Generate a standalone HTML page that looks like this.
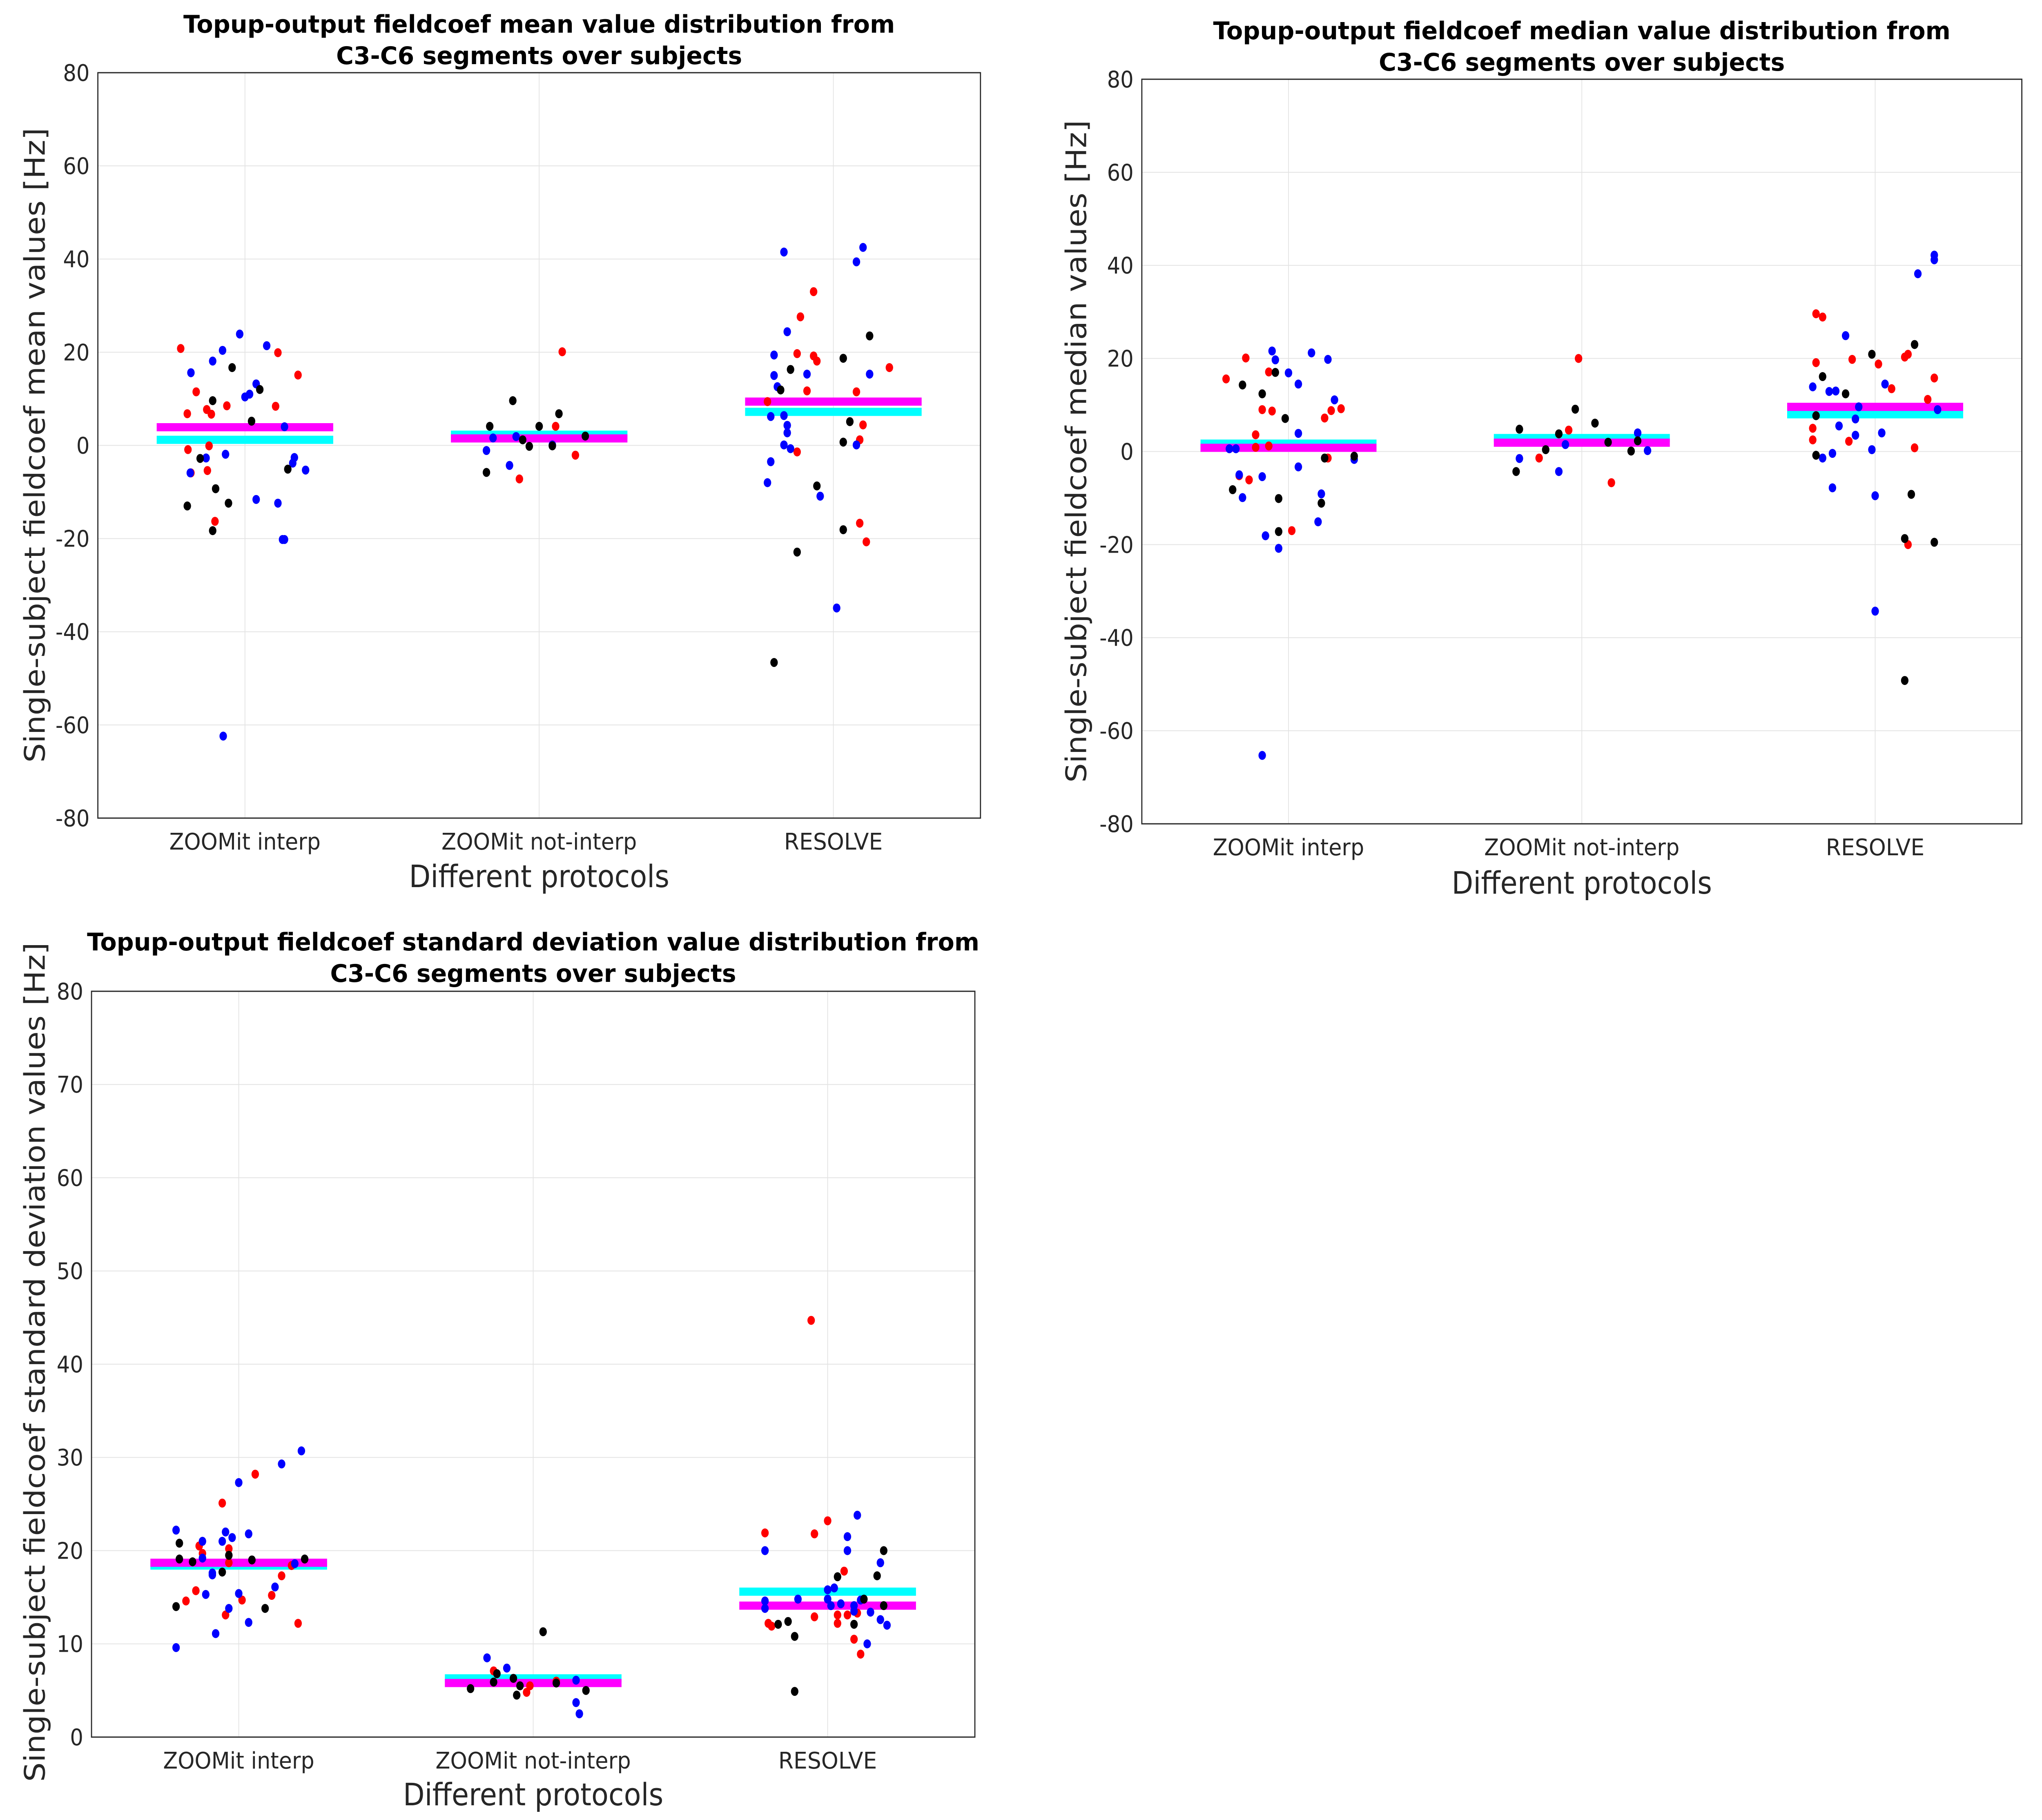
<!DOCTYPE html>
<html><head><meta charset="utf-8">
<style>
html,body{margin:0;padding:0;background:#fff;overflow:hidden;width:100%;height:100%;}
svg{display:block;width:100vw;height:100vh;font-family:"DejaVu Sans","Liberation Sans",sans-serif;}
</style></head>
<body>
<svg id="fig" xmlns="http://www.w3.org/2000/svg" viewBox="0 0 5467 4456" preserveAspectRatio="none">
<rect x="0" y="0" width="5467" height="4456" fill="#ffffff"/>
</svg>
<script>
// ---------- shared ----------
const categories = ["ZOOMit interp", "ZOOMit not-interp", "RESOLVE"];

// ---------- plot 1 : mean ----------
const p1Ticks = [-80, -60, -40, -20, 0, 20, 40, 60, 80];
const p1Mean = [3.9, 1.5, 9.4];
const p1Median = [1.2, 2.3, 7.2];
const p1RedVal = [20.8,11.5,6.8,7.7,6.7,8.5,8.4,19.9,15.1,-0.9,-5.9,-0.1,-5.4,-16.3, 20.1,4.1,-2.1,-7.2, 33.0,27.6,19.7,19.2,18.1,11.7,11.5,16.7,9.4,4.4,1.2,-1.4,-16.7,-20.7];
const p1RedCat = [0,0,0,0,0,0,0,0,0,0,0,0,0,0, 1,1,1,1, 2,2,2,2,2,2,2,2,2,2,2,2,2,2];
const p1RedJit = [-.195,-.148,-.175,-.116,-.102,-.055,.093,.1,.161,-.173,-.164,-.109,-.114,-.091, .07,.05,.11,-.06, -.06,-.1,-.11,-.06,-.05,-.08,.07,.17,-.2,.09,.08,-.11,.08,.1];
const p1BlueVal = [15.6,18.1,20.4,23.9,21.4,10.4,11.0,13.2,4.0,-2.7,-1.9,-2.6,-3.8,-5.3,-11.6,-12.4,-20.2,-20.2,-62.4,-5.9, 1.6,1.9,-1.1,-4.3,0.1, 41.5,42.5,39.4,24.4,19.4,15.0,15.3,15.3,12.6,6.2,6.4,4.3,2.7,0.1,-0.7,0.1,-3.5,-8.0,-10.9,-34.9];
const p1BlueCat = [0,0,0,0,0,0,0,0,0,0,0,0,0,0,0,0,0,0,0,0, 1,1,1,1,1, 2,2,2,2,2,2,2,2,2,2,2,2,2,2,2,2,2,2,2,2];
const p1BlueJit = [-.164,-.098,-.068,-.016,.066,0,.014,.034,.12,-.118,-.059,.15,.145,.184,.034,.1,.114,.12,-.066,-.166, -.14,-.07,-.16,-.09,.04, -.15,.09,.07,-.14,-.18,-.18,-.08,.11,-.17,-.19,-.15,-.14,-.14,-.15,-.13,.07,-.19,-.2,-.04,.01];
const p1BlackVal = [9.6,16.7,12.0,5.2,-2.8,-5.1,-13.0,-9.3,-12.4,-18.3, 4.1,9.6,4.1,6.8,2.0,1.2,-0.2,-5.8,-0.1, 23.5,18.7,16.3,11.9,5.1,0.7,-8.7,-18.1,-22.9,-46.6];
const p1BlackCat = [0,0,0,0,0,0,0,0,0,0, 1,1,1,1,1,1,1,1,1, 2,2,2,2,2,2,2,2,2,2];
const p1BlackJit = [-.098,-.039,.045,.02,-.136,.13,-.175,-.089,-.05,-.098, -.15,-.08,0,.06,.14,-.05,-.03,-.16,.04, .11,.03,-.13,-.16,.05,.03,-.05,.03,-.11,-.18];

// ---------- plot 2 : median ----------
const p2Ticks = [-80, -60, -40, -20, 0, 20, 40, 60, 80];
const p2Mean = [0.8, 1.9, 9.6];
const p2Median = [1.7, 2.9, 8.0];
const p2RedVal = [15.6,20.1,17.1,9.0,8.7,3.6,0.9,1.2,-5.2,-6.1,-17.0,7.2,8.8,9.2,-1.4, 20.0,4.6,-1.4,-6.7, 29.6,28.9,19.1,19.8,18.8,20.3,20.9,13.5,15.8,11.2,5.0,2.5,2.2,0.8,-20.0];
const p2RedCat = [0,0,0,0,0,0,0,0,0,0,0,0,0,0,0, 1,1,1,1, 2,2,2,2,2,2,2,2,2,2,2,2,2,2,2];
const p2RedJit = [-.19,-.13,-.06,-.08,-.05,-.1,-.1,-.06,-.15,-.12,.01,.11,.13,.16,.12, -.01,-.04,-.13,.09, -.18,-.16,-.18,-.07,.01,.09,.1,.05,.18,.16,-.19,-.19,-.08,.12,.1];
const p2BlueVal = [21.6,19.7,16.9,14.5,21.2,19.8,11.1,3.9,0.6,0.6,-5.0,-5.4,-9.9,-3.3,-9.1,-15.1,-1.7,-18.1,-20.8,-65.3, -1.5,1.5,4.0,0.2,-4.3, 42.2,41.2,38.2,24.9,13.9,12.9,13.0,14.5,9.6,9.0,7.0,5.5,3.5,4.0,0.4,-0.4,-1.4,-7.8,-9.5,-34.3];
const p2BlueCat = [0,0,0,0,0,0,0,0,0,0,0,0,0,0,0,0,0,0,0,0, 1,1,1,1,1, 2,2,2,2,2,2,2,2,2,2,2,2,2,2,2,2,2,2,2,2];
const p2BlueJit = [-.05,-.04,0,.03,.07,.12,.14,.03,-.18,-.16,-.15,-.08,-.14,.03,.1,.09,.2,-.07,-.03,-.08, -.19,-.05,.17,.2,-.07, .18,.18,.13,-.09,-.19,-.14,-.12,.03,-.05,.19,-.06,-.11,-.06,.02,-.01,-.13,-.16,-.13,0,0];
const p2BlackVal = [14.3,12.4,17.0,7.1,-1.4,-1.0,-8.2,-10.1,-11.1,-17.2, 4.8,9.1,6.1,3.8,0.4,2.0,2.3,0.1,-4.3, 20.9,23.0,16.1,12.4,7.7,-0.8,-9.2,-18.7,-19.5,-49.2];
const p2BlackCat = [0,0,0,0,0,0,0,0,0,0, 1,1,1,1,1,1,1,1,1, 2,2,2,2,2,2,2,2,2,2];
const p2BlackJit = [-.14,-.08,-.04,-.01,.11,.2,-.17,-.03,.1,-.03, -.19,-.02,.04,-.07,-.11,.08,.17,.15,-.2, -.01,.12,-.16,-.09,-.18,-.18,.11,.09,.18,.09];

// ---------- plot 3 : standard deviation ----------
const p3Ticks = [0, 10, 20, 30, 40, 50, 60, 70, 80];
const p3Mean = [18.7, 5.8, 14.1];
const p3Median = [18.4, 6.3, 15.6];
const p3RedVal = [25.1,28.2,20.5,19.7,20.2,18.7,17.3,18.4,15.7,14.6,14.7,15.2,13.1,12.2, 7.1,4.8,5.5,6.0, 44.7,21.9,23.2,21.8,17.8,12.9,13.1,12.2,13.1,13.3,12.2,11.9,10.5,8.9];
const p3RedCat = [0,0,0,0,0,0,0,0,0,0,0,0,0,0, 1,1,1,1, 2,2,2,2,2,2,2,2,2,2,2,2,2,2];
const p3RedJit = [-.05,.05,-.12,-.11,-.03,-.03,.13,.16,-.13,-.16,.01,.1,-.04,.18, -.12,-.02,-.01,.07, -.05,-.19,0,-.04,.05,-.04,.03,.03,.06,.09,-.18,-.17,.08,.1];
const p3BlueVal = [22.2,21.0,21.0,22.0,21.4,21.8,27.3,29.3,30.7,19.2,17.6,17.4,15.3,15.4,13.8,16.1,18.6,12.3,11.1,9.6, 8.5,7.4,6.1,3.7,2.5, 23.8,21.5,20.0,20.0,18.7,15.8,16.0,14.8,14.1,14.3,14.6,13.8,14.8,14.1,14.7,13.5,13.4,12.6,12.0,10.0];
const p3BlueCat = [0,0,0,0,0,0,0,0,0,0,0,0,0,0,0,0,0,0,0,0, 1,1,1,1,1, 2,2,2,2,2,2,2,2,2,2,2,2,2,2,2,2,2,2,2,2];
const p3BlueJit = [-.19,-.11,-.05,-.04,-.02,.03,0,.13,.19,-.11,-.08,-.08,-.1,0,-.03,.11,.17,.03,-.07,-.19, -.14,-.08,.13,.13,.14, .09,.06,-.19,.06,.16,0,.02,0,.01,.04,-.19,-.19,-.09,.08,.1,.08,.13,.16,.18,.12];
const p3BlackVal = [20.8,19.1,18.8,17.7,19.5,19.0,19.1,14.0,13.8, 11.3,6.8,6.3,5.9,5.5,5.8,5.2,4.5,5.0, 20.0,17.2,17.3,14.8,14.1,12.4,12.1,12.1,10.8,4.9];
const p3BlackCat = [0,0,0,0,0,0,0,0,0, 1,1,1,1,1,1,1,1,1, 2,2,2,2,2,2,2,2,2,2];
const p3BlackJit = [-.18,-.18,-.14,-.05,-.03,.04,.2,-.19,.08, .03,-.11,-.06,-.12,-.04,.07,-.19,-.05,.16, .17,.03,.15,.11,.17,-.12,-.15,.08,-.1,-.1];

const NS = "http://www.w3.org/2000/svg";
const svg = document.getElementById("fig");
function mk(tag, attrs, parent) {
  const e = document.createElementNS(NS, tag);
  for (const k in attrs) e.setAttribute(k, attrs[k]);
  (parent || svg).appendChild(e);
  return e;
}

function drawPlot(cfg) {
  const g = mk("g", {});
  
  
  const L = cfg.left, R = cfg.right, T = cfg.top, B = cfg.bottom;
  const ymin = cfg.ticks[0], ymax = cfg.ticks[cfg.ticks.length - 1];
  const yScale = v => B - (v - ymin) / (ymax - ymin) * (B - T);
  const catW = (R - L) / categories.length;
  const xScale = (c, j) => L + catW * (c + 0.5) + j * catW * 1.12;

  cfg.ticks.forEach(t => {
    const ln = mk("line", {x1: L, x2: R, y1: yScale(t), y2: yScale(t), stroke: "#e3e3e3", "stroke-width": 2}, g);
    
    
  });
  categories.forEach((c, i) => {
    const ln = mk("line", {x1: xScale(i, 0), x2: xScale(i, 0), y1: T, y2: B, stroke: "#e3e3e3", "stroke-width": 2}, g);
    
    
  });

  const halfW = 0.3 * catW;
  cfg.median.forEach((v, i) => {
    const r = mk("rect", {x: xScale(i, 0) - halfW, y: yScale(v) - 10, width: 2 * halfW, height: 20, fill: "#00ffff"}, g);
    
    
  });
  cfg.mean.forEach((v, i) => {
    const r = mk("rect", {x: xScale(i, 0) - halfW, y: yScale(v) - 10, width: 2 * halfW, height: 20, fill: "#ff00ff"}, g);
    
    
  });

  cfg.series.forEach(s => {
    s.vals.forEach((v, k) => {
      const c = mk("ellipse", {cx: xScale(s.cats[k], s.jits[k]), cy: yScale(v), rx: 10, ry: 11, fill: s.color}, g);
      
      
    });
  });

  const fr = mk("rect", {x: L, y: T, width: R - L, height: B - T, fill: "none", stroke: "#262626", "stroke-width": 3}, g);
  
  

  cfg.ticks.forEach(t => {
    const tx = mk("text", {x: L - 22, y: yScale(t) + 20, "text-anchor": "end", "font-size": 56, fill: "#262626"}, g);
    tx.textContent = String(t);
    
    
  });
  const xtl = [405, 523, 264];
  categories.forEach((c, i) => {
    const tx = mk("text", {x: xScale(i, 0), y: cfg.xtickY, "text-anchor": "middle", "font-size": 56, fill: "#262626", textLength: xtl[i], lengthAdjust: "spacingAndGlyphs"}, g);
    tx.textContent = c;
    
    
  });
  const xt = mk("text", {x: (L + R) / 2, y: cfg.xtitleY, "text-anchor": "middle", "font-size": 76, fill: "#262626", textLength: 697, lengthAdjust: "spacingAndGlyphs"}, g);
  xt.textContent = "Different protocols";
  
  
  const yt = mk("text", {x: 0, y: 0, transform: "translate(" + (cfg.ytitleX + 27) + "," + cfg.ytitleCY + ") rotate(-90)", "text-anchor": "middle", "font-size": 76, fill: "#262626", textLength: cfg.ytitleLen, lengthAdjust: "spacingAndGlyphs"}, g);
  yt.textContent = cfg.ytitle;
  
  
  const t1 = mk("text", {x: (L + R) / 2, y: cfg.titleY1, "text-anchor": "middle", "font-size": 60, "font-weight": "bold", fill: "#000", textLength: cfg.title1Len, lengthAdjust: "spacingAndGlyphs"}, g);
  t1.textContent = cfg.title1;
  
  
  const t2 = mk("text", {x: (L + R) / 2, y: cfg.titleY2, "text-anchor": "middle", "font-size": 60, "font-weight": "bold", fill: "#000", textLength: 1087, lengthAdjust: "spacingAndGlyphs"}, g);
  t2.textContent = "C3-C6 segments over subjects";
  
  
}

drawPlot({
  name: "mean-plot", left: 262, right: 2625, top: 178, bottom: 2003, ticks: p1Ticks,
  mean: p1Mean, median: p1Median,
  series: [
    {label: "red", color: "#ff0000", vals: p1RedVal, cats: p1RedCat, jits: p1RedJit},
    {label: "blue", color: "#0000ff", vals: p1BlueVal, cats: p1BlueCat, jits: p1BlueJit},
    {label: "black", color: "#000000", vals: p1BlackVal, cats: p1BlackCat, jits: p1BlackJit}
  ],
  xtickY: 2080, xtitleY: 2172, ytitleX: 93, ytitleCY: 1090, ytitleLen: 1554,
  ytitle: "Single-subject fieldcoef mean values [Hz]",
  title1: "Topup-output fieldcoef mean value distribution from", title1Len: 1905,
  titleY1: 80, titleY2: 157
});
drawPlot({
  name: "median-plot", left: 3057, right: 5413, top: 194, bottom: 2017, ticks: p2Ticks,
  mean: p2Mean, median: p2Median,
  series: [
    {label: "red", color: "#ff0000", vals: p2RedVal, cats: p2RedCat, jits: p2RedJit},
    {label: "blue", color: "#0000ff", vals: p2BlueVal, cats: p2BlueCat, jits: p2BlueJit},
    {label: "black", color: "#000000", vals: p2BlackVal, cats: p2BlackCat, jits: p2BlackJit}
  ],
  xtickY: 2094, xtitleY: 2188, ytitleX: 2881, ytitleCY: 1105, ytitleLen: 1622,
  ytitle: "Single-subject fieldcoef median values [Hz]",
  title1: "Topup-output fieldcoef median value distribution from", title1Len: 1974,
  titleY1: 96, titleY2: 173
});
drawPlot({
  name: "std-plot", left: 245, right: 2610, top: 2427, bottom: 4253, ticks: p3Ticks,
  mean: p3Mean, median: p3Median,
  series: [
    {label: "red", color: "#ff0000", vals: p3RedVal, cats: p3RedCat, jits: p3RedJit},
    {label: "blue", color: "#0000ff", vals: p3BlueVal, cats: p3BlueCat, jits: p3BlueJit},
    {label: "black", color: "#000000", vals: p3BlackVal, cats: p3BlackCat, jits: p3BlackJit}
  ],
  xtickY: 4330, xtitleY: 4420, ytitleX: 93, ytitleCY: 3335, ytitleLen: 2055,
  ytitle: "Single-subject fieldcoef standard deviation values [Hz]",
  title1: "Topup-output fieldcoef standard deviation value distribution from", title1Len: 2389,
  titleY1: 2327, titleY2: 2404
});
</script>
</body></html>
